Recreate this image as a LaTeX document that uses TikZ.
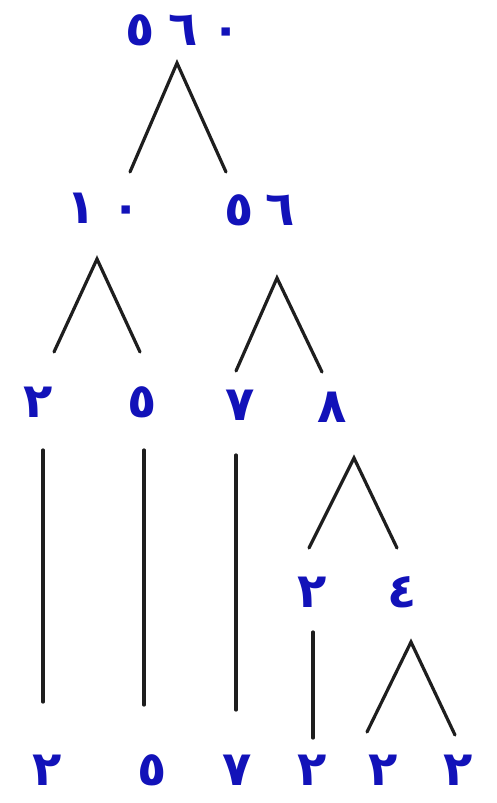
\documentclass[tikz,border=0pt]{standalone}
\usepackage{fontspec}
\newfontfamily\digitfont[Script=Arabic]{DejaVu Sans}
\definecolor{numblue}{RGB}{18,18,185}
\definecolor{linegray}{RGB}{30,30,30}
\tikzset{
  num/.style={font=\digitfont\bfseries\fontsize{48}{52}\selectfont, text=numblue, inner sep=0pt, anchor=center},
  branch/.style={draw=linegray, line width=3.2pt, line cap=round, line join=miter}
}
\begin{document}
\begin{tikzpicture}[x=1pt,y=-1pt]
\useasboundingbox[fill=white] (0,0) rectangle (497,803);
% numbers
\node[num] (n560) at (183,30) {٥\kern14pt٦\kern14pt٠};
\node[num] (n10) at (104,208) {١\kern16pt٠};
\node[num] (n56) at (260,210) {٥\kern12pt٦};
\node[num] (a2) at (38,402) {٢};
\node[num] (a5) at (142,402) {٥};
\node[num] (a7) at (240,405) {٧};
\node[num] (a8) at (332,407) {٨};
\node[num] (b2) at (312,592) {٢};
\node[num] (b4) at (402,592) {٤};
\node[num] (c1) at (47,770) {٢};
\node[num] (c2) at (152,770) {٥};
\node[num] (c3) at (237,770) {٧};
\node[num] (c4) at (312,770) {٢};
\node[num] (c5) at (383,770) {٢};
\node[num] (c6) at (458,770) {٢};
% branch points
\coordinate (t0) at (177,63);
\coordinate (t0l) at (130,172);
\coordinate (t0r) at (226,172);
\coordinate (t1) at (97,259);
\coordinate (t1l) at (54,352);
\coordinate (t1r) at (140,352);
\coordinate (t2) at (277,278);
\coordinate (t2l) at (236,371);
\coordinate (t2r) at (322,372);
\coordinate (t3) at (354,458);
\coordinate (t3l) at (309,548);
\coordinate (t3r) at (397,548);
\coordinate (t4) at (411,642);
\coordinate (t4l) at (367,732);
\coordinate (t4r) at (455,735);
\coordinate (v1t) at (43,450);  \coordinate (v1b) at (43,702);
\coordinate (v2t) at (144,450); \coordinate (v2b) at (144,705);
\coordinate (v3t) at (236,455); \coordinate (v3b) at (236,710);
\coordinate (v4t) at (313,632); \coordinate (v4b) at (313,738);
% connectors
\draw[branch] (t0l) -- (t0) -- (t0r);
\draw[branch] (t1l) -- (t1) -- (t1r);
\draw[branch] (t2l) -- (t2) -- (t2r);
\draw[branch] (t3l) -- (t3) -- (t3r);
\draw[branch] (t4l) -- (t4) -- (t4r);
\draw[branch] (v1t) -- (v1b);
\draw[branch] (v2t) -- (v2b);
\draw[branch] (v3t) -- (v3b);
\draw[branch] (v4t) -- (v4b);
\end{tikzpicture}
\end{document}
